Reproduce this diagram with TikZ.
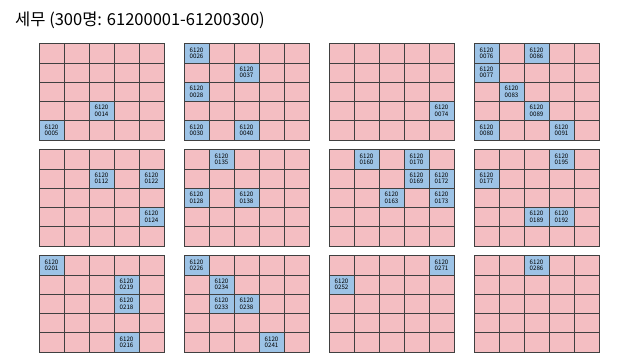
\documentclass[tikz,border=0pt]{standalone}
\usepackage{fontspec}
\setmainfont{Noto Sans CJK KR}
\definecolor{seatpink}{RGB}{244,190,194}
\definecolor{seatblue}{RGB}{157,195,230}

\tikzset{
  cell/.style={draw=black!75, fill=seatpink, line width=0.5pt,
    minimum width=25pt, minimum height=19.3pt, inner sep=0pt, outer sep=0pt},
  seat/.style={cell, fill=seatblue, align=center,
    font=\fontsize{6.2}{6.6}\selectfont},
}
% one block of 5x5 seats: name, left, top
\newcommand{\seatgrid}[3]{%
  \foreach \c in {1,...,5}
    \foreach \r in {1,...,5}
      \node[cell] (#1-\c-\r) at ({#2+(\c-0.5)*25},{#3+(\r-0.5)*19.3}) {};
}
% taken seat: grid, column, row, number
\newcommand{\seat}[4]{\node[seat] (s#4) at (#1-#2-#3) {6120\\#4};}

\begin{document}
\begin{tikzpicture}[x=1pt, y=-1pt]
  \useasboundingbox (0,0) rectangle (640,360);

  \node[anchor=west, font=\fontsize{16.5}{20}\selectfont, inner sep=0pt] (title) at (15,20)
    {세무 (300명: 61200001-61200300)};

  % blocks
  \seatgrid{g1}{39}{43.5}
  \seatgrid{g2}{184}{43.5}
  \seatgrid{g3}{329}{43.5}
  \seatgrid{g4}{474}{43.5}
  \seatgrid{g5}{39}{149.5}
  \seatgrid{g6}{184}{149.5}
  \seatgrid{g7}{329}{149.5}
  \seatgrid{g8}{474}{149.5}
  \seatgrid{g9}{39}{255.5}
  \seatgrid{g10}{184}{255.5}
  \seatgrid{g11}{329}{255.5}
  \seatgrid{g12}{474}{255.5}

  % taken seats
  \seat{g1}{3}{4}{0014}
  \seat{g1}{1}{5}{0005}

  \seat{g2}{1}{1}{0026}
  \seat{g2}{3}{2}{0037}
  \seat{g2}{1}{3}{0028}
  \seat{g2}{1}{5}{0030}
  \seat{g2}{3}{5}{0040}

  \seat{g3}{5}{4}{0074}

  \seat{g4}{1}{1}{0076}
  \seat{g4}{3}{1}{0086}
  \seat{g4}{1}{2}{0077}
  \seat{g4}{2}{3}{0083}
  \seat{g4}{3}{4}{0089}
  \seat{g4}{1}{5}{0080}
  \seat{g4}{4}{5}{0091}

  \seat{g5}{3}{2}{0112}
  \seat{g5}{5}{2}{0122}
  \seat{g5}{5}{4}{0124}

  \seat{g6}{2}{1}{0135}
  \seat{g6}{1}{3}{0128}
  \seat{g6}{3}{3}{0138}

  \seat{g7}{2}{1}{0160}
  \seat{g7}{4}{1}{0170}
  \seat{g7}{4}{2}{0169}
  \seat{g7}{5}{2}{0172}
  \seat{g7}{3}{3}{0163}
  \seat{g7}{5}{3}{0173}

  \seat{g8}{4}{1}{0195}
  \seat{g8}{1}{2}{0177}
  \seat{g8}{3}{4}{0189}
  \seat{g8}{4}{4}{0192}

  \seat{g9}{1}{1}{0201}
  \seat{g9}{4}{2}{0219}
  \seat{g9}{4}{3}{0218}
  \seat{g9}{4}{5}{0216}

  \seat{g10}{1}{1}{0226}
  \seat{g10}{2}{2}{0234}
  \seat{g10}{2}{3}{0233}
  \seat{g10}{3}{3}{0238}
  \seat{g10}{4}{5}{0241}

  \seat{g11}{5}{1}{0271}
  \seat{g11}{1}{2}{0252}

  \seat{g12}{3}{1}{0286}
\end{tikzpicture}
\end{document}
